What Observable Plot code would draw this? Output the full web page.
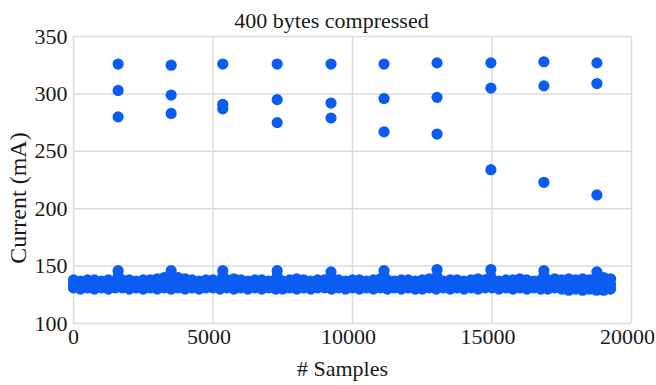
<!DOCTYPE html>
<html><head><meta charset="utf-8">
<script src="https://cdn.jsdelivr.net/npm/d3@7"></script>
<script src="https://cdn.jsdelivr.net/npm/@observablehq/plot@0.6"></script>
<style>
body{margin:0;background:#fff}
#chart svg, #chart svg text { font-family: "Liberation Serif", "Times New Roman", serif !important; font-variant-numeric: normal !important; }
</style>
</head><body><div id="chart"></div>
<script>
const title = "400 bytes compressed";
const xLabel = "# Samples";
const yLabel = "Current (mA)";
const xTicks = [0, 5000, 10000, 15000, 20000];
const yTicks = [100, 150, 200, 250, 300, 350];

// high-current bursts (sample index, three readings each)
const burstX = [1600, 3500, 5350, 7300, 9230, 11130, 13030, 14960, 16860, 18760];
const burstTop = [326, 325, 326, 326, 326, 326, 327, 327, 328, 327];
const burstMid = [303, 299, 291, 295, 292, 296, 297, 305, 307, 309];
const burstLow = [280, 283, 287, 275, 279, 267, 265, 234, 223, 212];
// small bumps on the baseline at each burst
const bumpTop = [146, 146, 146, 146, 145, 146, 147, 147, 146, 145];
const bumpMid = [141, 141, 141, 141, 141, 141, 141, 141, 141, 141];

// baseline band, read every 250 samples (upper edge, middle, lower edge)
const bandX = [0,250,500,750,1000,1250,1500,1750,2000,2250,
  2500,2750,3000,3250,3500,3750,4000,4250,4500,4750,
  5000,5250,5500,5750,6000,6250,6500,6750,7000,7250,
  7500,7750,8000,8250,8500,8750,9000,9250,9500,9750,
  10000,10250,10500,10750,11000,11250,11500,11750,12000,12250,
  12500,12750,13000,13250,13500,13750,14000,14250,14500,14750,
  15000,15250,15500,15750,16000,16250,16500,16750,17000,17250,
  17500,17750,18000,18250,18500,18750,19000,19250];
const bandHigh = [138,137,138,138,137,138,137,138,138,137,
  138,138,139,140,141,140,139,138,137,138,
  138,137,138,139,138,137,138,138,137,138,
  137,138,139,138,137,138,138,137,138,137,
  138,138,137,138,139,138,137,138,138,137,
  138,139,138,137,138,138,137,138,139,138,
  138,137,138,138,139,138,137,138,138,139,
  138,139,138,139,138,139,140,139];
const bandMid = [134,134,134,134,134,134,134,134,134,134,
  134,134,135,135,136,135,134,134,134,134,
  134,134,134,134,134,134,134,134,134,134,
  134,134,134,134,134,134,134,134,134,134,
  134,134,134,134,134,134,134,134,134,134,
  134,134,134,134,134,134,134,134,134,134,
  134,134,134,134,134,134,134,134,134,134,
  134,134,134,134,134,134,134,134];
const bandLow = [131,130,131,130,131,130,131,131,130,131,
  130,131,130,131,130,131,130,131,130,131,
  131,130,131,130,131,130,131,130,131,130,
  130,131,130,131,130,131,131,130,131,130,
  131,130,131,130,131,130,131,130,131,130,
  130,131,130,131,130,131,130,131,130,131,
  131,130,131,130,131,130,131,130,130,131,
  130,129,130,129,130,129,129,130];

const points = [];
bandX.forEach((x, i) => {
  points.push({x, y: bandHigh[i]}, {x, y: bandMid[i]}, {x, y: bandLow[i]});
});
burstX.forEach((x, i) => {
  points.push({x, y: bumpTop[i]}, {x, y: bumpMid[i]});
  points.push({x, y: burstTop[i]}, {x, y: burstMid[i]}, {x, y: burstLow[i]});
});

const dotColor = "#0b5cf2";
const gridColor = "#dcdcdc";
const textColor = "#1a1a1a";
const font = "Liberation Serif, Times New Roman, serif";
const tickText = {text: d => String(d), fontSize: 22, fontFamily: font, fill: textColor};

const chart = Plot.plot({
  width: 656, height: 385,
  marginLeft: 73, marginRight: 25, marginTop: 36, marginBottom: 62,
  style: {fontFamily: font, fontSize: "22px", color: textColor, background: "#fff"},
  x: {domain: [0, 20000], axis: null},
  y: {domain: [100, 350], axis: null},
  marks: [
    Plot.gridX(xTicks, {stroke: gridColor, strokeOpacity: 1, strokeWidth: 1.5}),
    Plot.gridY(yTicks, {stroke: gridColor, strokeOpacity: 1, strokeWidth: 1.5}),
    // tick labels
    Plot.text(xTicks.filter(d => d === 0), {x: d => d, ...tickText, frameAnchor: "bottom", lineAnchor: "top", dx: 0, dy: 5}),
    Plot.text(xTicks.filter(d => d !== 0), {x: d => d, ...tickText, frameAnchor: "bottom", lineAnchor: "top", dx: -4, dy: 5}),
    Plot.text(yTicks, {y: d => d, ...tickText, frameAnchor: "left", textAnchor: "end", lineAnchor: "middle", dx: -6}),
    Plot.dot(points, {x: "x", y: "y", r: 5.6, fill: dotColor, stroke: "none"}),
    Plot.text([title], {frameAnchor: "top", textAnchor: "middle", lineAnchor: "middle", dx: -21, dy: -16, fontSize: 22, fontFamily: font, fill: textColor}),
    Plot.text([xLabel], {frameAnchor: "bottom", textAnchor: "middle", lineAnchor: "middle", dx: -10, dy: 45, fontSize: 22, fontFamily: font, fill: textColor}),
    Plot.text([yLabel], {frameAnchor: "left", textAnchor: "middle", lineAnchor: "middle", rotate: -90, dx: -55, dy: 18, fontSize: 24, fontFamily: font, fill: textColor})
  ]
});
document.getElementById("chart").appendChild(chart);
</script>
</body></html>
